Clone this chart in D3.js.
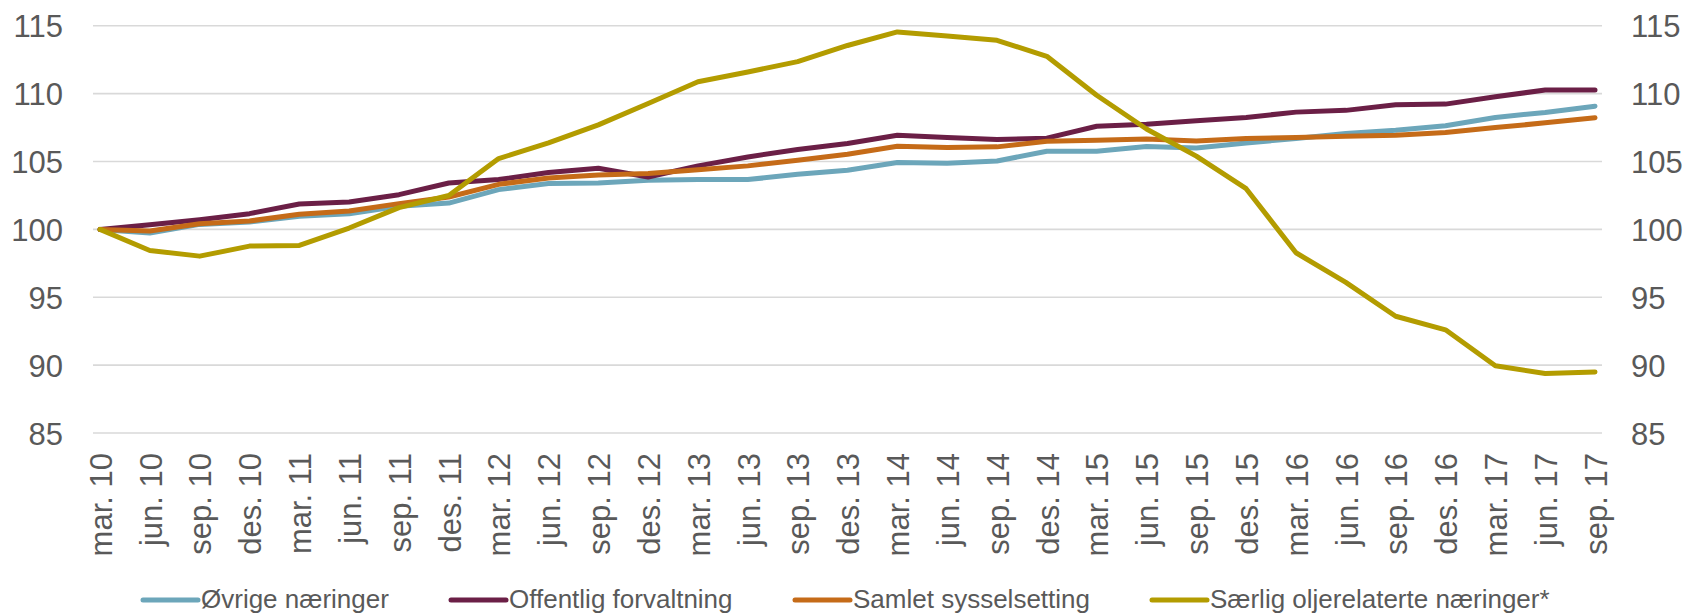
<!DOCTYPE html>
<html>
<head>
<meta charset="utf-8">
<script src="https://cdn.jsdelivr.net/npm/d3@7"></script>
<style>
  html, body { margin: 0; padding: 0; background: #fff; }
  svg { display: block; font-family: "Liberation Sans", Arial, sans-serif; }
</style>
</head>
<body>
<svg id="chart" width="1686" height="615"></svg>
<script>
const categories = ["mar. 10","jun. 10","sep. 10","des. 10","mar. 11","jun. 11","sep. 11","des. 11",
  "mar. 12","jun. 12","sep. 12","des. 12","mar. 13","jun. 13","sep. 13","des. 13",
  "mar. 14","jun. 14","sep. 14","des. 14","mar. 15","jun. 15","sep. 15","des. 15",
  "mar. 16","jun. 16","sep. 16","des. 16","mar. 17","jun. 17","sep. 17"];

const ovrige = [100, 99.73, 100.37, 100.54, 100.96, 101.16, 101.7, 101.94, 102.93, 103.38, 103.42,
  103.62, 103.67, 103.67, 104.06, 104.36, 104.93, 104.87, 105.04, 105.76, 105.76,
  106.1, 106.0, 106.37, 106.7, 107.07, 107.3, 107.63, 108.25, 108.62, 109.08];

const offentlig = [100, 100.34, 100.71, 101.16, 101.87, 102.02, 102.56, 103.42, 103.67, 104.19, 104.5,
  103.86, 104.68, 105.34, 105.88, 106.33, 106.94, 106.77, 106.62, 106.72, 107.6,
  107.75, 108.0, 108.25, 108.64, 108.77, 109.18, 109.23, 109.77, 110.27, 110.27];

const samlet = [100, 99.88, 100.42, 100.62, 101.11, 101.35, 101.9, 102.39, 103.32, 103.79, 104.0,
  104.11, 104.4, 104.68, 105.1, 105.54, 106.13, 106.03, 106.08, 106.5, 106.57,
  106.66, 106.52, 106.7, 106.77, 106.87, 106.94, 107.14, 107.5, 107.85, 108.22];

const saerlig = [100, 98.45, 98.03, 98.77, 98.82, 100.1, 101.6, 102.5, 105.22, 106.37, 107.7,
  109.28, 110.88, 111.6, 112.36, 113.55, 114.55, 114.25, 113.93, 112.75, 109.88,
  107.4, 105.4, 103.0, 98.28, 96.1, 93.6, 92.6, 89.95, 89.38, 89.5];

const seriesNames = ["Øvrige næringer", "Offentlig forvaltning", "Samlet sysselsetting", "Særlig oljerelaterte næringer*"];
const seriesColors = ["#6ca6ba", "#6b1f46", "#c56b18", "#b39c00"];
const seriesData = [ovrige, offentlig, samlet, saerlig];
const yTicks = [85, 90, 95, 100, 105, 110, 115];

const svg = d3.select("#chart");
const textColor = "#595959";

const x = d3.scalePoint().domain(categories).range([100, 1595]);
const y = d3.scaleLinear().domain([85, 115]).range([433, 25.8]);

// gridlines
svg.append("g").selectAll("line").data(yTicks).join("line")
  .attr("x1", 93).attr("x2", 1602)
  .attr("y1", d => y(d)).attr("y2", d => y(d))
  .attr("stroke", "#d9d9d9").attr("stroke-width", 1.6);

// left axis
const leftAxis = svg.append("g").attr("transform", "translate(63,0)")
  .call(d3.axisLeft(y).tickValues(yTicks).tickSize(0).tickPadding(0));
leftAxis.select(".domain").remove();
leftAxis.selectAll("text").attr("font-size", 31).attr("fill", textColor)
  .attr("font-family", "Liberation Sans, Arial, sans-serif").attr("dy", "0.36em");

// right axis
const rightAxis = svg.append("g").attr("transform", "translate(1631,0)")
  .call(d3.axisRight(y).tickValues(yTicks).tickSize(0).tickPadding(0));
rightAxis.select(".domain").remove();
rightAxis.selectAll("text").attr("font-size", 31).attr("fill", textColor)
  .attr("font-family", "Liberation Sans, Arial, sans-serif").attr("dy", "0.36em");

// x axis
const xAxis = svg.append("g").attr("transform", "translate(0,453)")
  .call(d3.axisBottom(x).tickSize(0).tickPadding(0));
xAxis.select(".domain").remove();
xAxis.selectAll("text")
  .attr("font-size", 31).attr("fill", textColor)
  .attr("font-family", "Liberation Sans, Arial, sans-serif")
  .attr("text-anchor", "end")
  .attr("transform", "rotate(-90)")
  .attr("x", 0).attr("y", 0).attr("dy", "0.36em");

// lines
const line = d3.line().x((d, i) => x(categories[i])).y(d => y(d));
svg.append("g").selectAll("path").data(seriesData).join("path")
  .attr("d", d => line(d))
  .attr("fill", "none")
  .attr("stroke", (d, i) => seriesColors[i])
  .attr("stroke-width", 5)
  .attr("stroke-linejoin", "round")
  .attr("stroke-linecap", "round");

// legend
const legendX = [143, 451, 795, 1152];
const legend = svg.append("g").selectAll("g").data(seriesNames).join("g")
  .attr("transform", (d, i) => `translate(${legendX[i]},600)`);
legend.append("line").attr("x1", 0).attr("x2", 55).attr("y1", 0).attr("y2", 0)
  .attr("stroke", (d, i) => seriesColors[i]).attr("stroke-width", 5).attr("stroke-linecap", "round");
legend.append("text").attr("x", 58).attr("y", 0).attr("dy", "0.3em")
  .attr("font-size", 26).attr("fill", textColor).text(d => d);
</script>
</body>
</html>
